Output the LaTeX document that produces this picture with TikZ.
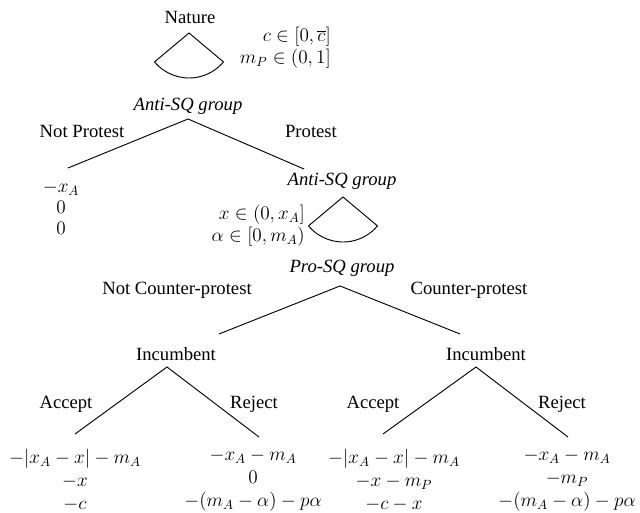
\documentclass[tikz,border=0pt]{standalone}
\usepackage{fontspec}
\setmainfont{Liberation Serif}
\begin{document}
\begin{tikzpicture}[x=0.75pt,y=-0.75pt,
  lbl/.style={inner sep=0pt,font=\fontsize{14}{16}\selectfont},
  player/.style={lbl,font=\fontsize{14}{16}\selectfont\itshape},
  pay/.style={inner sep=0pt,align=center,font=\fontsize{14}{17.2}\selectfont},
  payA/.style={inner sep=0pt,align=center,font=\fontsize{14}{15.6}\selectfont},
  info/.style={inner sep=0pt,align=right,anchor=east,font=\fontsize{14}{16.5}\selectfont},
  branch/.style={line width=0.7pt},
  fan/.style={line width=0.7pt}]
\useasboundingbox (0,0) rectangle (640,513);

% Nature
\node[lbl] (nature) at (190,17) {Nature};
\coordinate (nfan) at (189,33);
\draw[fan] (nfan) -- ++(220:33.75pt) arc[start angle=220,end angle=320,radius=33.75pt] -- cycle;
\node[info] (ninfo) at (331,48) {$c\in[0,\overline{c}]$\\$m_P\in(0,1]$};

% Anti-SQ group (first)
\node[player] (anti1) at (188,106) {Anti-SQ group};
\coordinate (a1) at (188,119);
\coordinate (a1l) at (68,168);
\coordinate (a1r) at (304,169);
\draw[branch] (a1l) -- (a1) -- (a1r);
\node[lbl] (np) at (82,131) {Not Protest};
\node[lbl] (pr) at (311,131) {Protest};
\node[payA] (pay0) at (61,208) {$-x_A$\\$0$\\$0$};

% Anti-SQ group (second)
\node[player] (anti2) at (342,181) {Anti-SQ group};
\coordinate (afan) at (343,197);
\draw[fan] (afan) -- ++(220:33.75pt) arc[start angle=220,end angle=320,radius=33.75pt] -- cycle;
\node[info] (ainfo) at (305,226) {$x\in(0,x_A]$\\$\alpha\in[0,m_A)$};

% Pro-SQ group
\node[player] (pro) at (342,268) {Pro-SQ group};
\coordinate (p) at (340,286);
\coordinate (pl) at (219,334);
\coordinate (pr2) at (460,334);
\draw[branch] (pl) -- (p) -- (pr2);
\node[lbl] (ncp) at (177,290) {Not Counter-protest};
\node[lbl] (cp) at (469,290) {Counter-protest};

% Incumbent left
\node[lbl] (incL) at (176,354) {Incumbent};
\coordinate (iL) at (167,367);
\coordinate (iLl) at (75,434);
\coordinate (iLr) at (259,437);
\draw[branch] (iLl) -- (iL) -- (iLr);
\node[lbl] (accL) at (66,404) {Accept};
\node[lbl] (rejL) at (254,404) {Reject};

% Incumbent right
\node[lbl] (incR) at (486,354) {Incumbent};
\coordinate (iR) at (476,367);
\coordinate (iRl) at (383,434);
\coordinate (iRr) at (568,437);
\draw[branch] (iRl) -- (iR) -- (iRr);
\node[lbl] (accR) at (373,404) {Accept};
\node[lbl] (rejR) at (562,404) {Reject};

% payoffs
\node[pay] (pay1) at (75,480) {$-|x_A-x|-m_A$\\$-x$\\$-c$};
\node[pay] (pay2) at (253,480) {$-x_A-m_A$\\$0$\\$-(m_A-\alpha)-p\alpha$};
\node[pay] (pay3) at (394,480) {$-|x_A-x|-m_A$\\$-x-m_P$\\$-c-x$};
\node[pay] (pay4) at (567,480) {$-x_A-m_A$\\$-m_P$\\$-(m_A-\alpha)-p\alpha$};
\end{tikzpicture}
\end{document}
